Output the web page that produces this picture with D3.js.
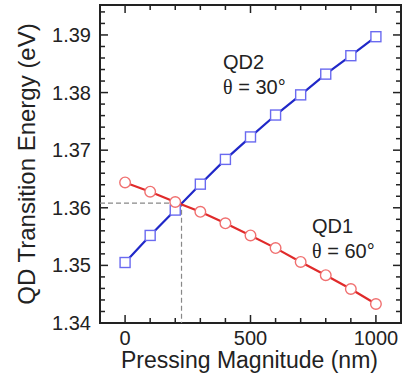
<!DOCTYPE html>
<html>
<head>
<meta charset="utf-8">
<script src="https://cdn.jsdelivr.net/npm/d3@7"></script>
<style>
  body { margin: 0; background: #fff; }
  text { font-family: "Liberation Sans", Arial, sans-serif; fill: #222; }
</style>
</head>
<body>
<div id="chart"></div>
<script>
// data
var pressing = [0, 100, 200, 300, 400, 500, 600, 700, 800, 900, 1000];
var qd2Energy = [1.3505, 1.3552, 1.3596, 1.3641, 1.3684, 1.3723, 1.3761, 1.3796, 1.3832, 1.3864, 1.3897];
var qd1Energy = [1.3644, 1.3628, 1.3610, 1.3593, 1.3573, 1.3552, 1.3530, 1.3506, 1.3483, 1.3459, 1.3433];
var crossing = { x: 225, y: 1.3608 };
var xTickLabels = [0, 500, 1000];
var yTickLabels = [1.34, 1.35, 1.36, 1.37, 1.38, 1.39];

var svgWidth = 403;
var svgHeight = 378;
var margin = { top: 5, right: 2, bottom: 55, left: 100 };
var width = svgWidth - margin.left - margin.right;
var height = svgHeight - margin.top - margin.bottom;

var svg = d3.select("#chart").append("svg")
  .attr("width", svgWidth)
  .attr("height", svgHeight);

var chartGroup = svg.append("g")
  .attr("transform", `translate(${margin.left}, ${margin.top})`);

var x = d3.scaleLinear().domain([-100, 1100]).range([0, width]);
var y = d3.scaleLinear().domain([1.34, 1.3952]).range([height, 0]);

// ticks (inward, mirrored on top/right)
var xMinor = d3.range(0, 1001, 100);
var yMinor = d3.range(1.34, 1.3951, 0.002);

function isMajorX(v) { return v % 500 === 0; }
function isMajorY(v) { return Math.abs(Math.round(v * 100) - v * 100) < 1e-6; }

var tickG = chartGroup.append("g").attr("stroke", "#222").attr("stroke-width", 1.5);
xMinor.forEach(function(v) {
  var len = isMajorX(v) ? 8 : 5;
  tickG.append("line").attr("x1", x(v)).attr("x2", x(v)).attr("y1", height).attr("y2", height - len);
  tickG.append("line").attr("x1", x(v)).attr("x2", x(v)).attr("y1", 0).attr("y2", len);
});
yMinor.forEach(function(v) {
  var len = isMajorY(v) ? 8 : 5;
  tickG.append("line").attr("x1", 0).attr("x2", len).attr("y1", y(v)).attr("y2", y(v));
  tickG.append("line").attr("x1", width).attr("x2", width - len).attr("y1", y(v)).attr("y2", y(v));
});

// frame
chartGroup.append("rect")
  .attr("x", 0).attr("y", 0)
  .attr("width", width).attr("height", height)
  .attr("fill", "none").attr("stroke", "#222").attr("stroke-width", 2);

// tick labels
chartGroup.selectAll(".xlab").data(xTickLabels).enter().append("text")
  .attr("x", d => x(d)).attr("y", height + 22)
  .attr("text-anchor", "middle")
  .style("font-size", "20px")
  .text(d => d);

chartGroup.selectAll(".ylab").data(yTickLabels).enter().append("text")
  .attr("x", -9).attr("y", d => y(d) + 7)
  .attr("text-anchor", "end")
  .style("font-size", "20px")
  .text(d => d.toFixed(2));

// dashed guide lines at the crossing
chartGroup.append("path")
  .attr("d", `M0,${y(crossing.y)}H${x(crossing.x)}V${height}`)
  .attr("fill", "none").attr("stroke", "#888").attr("stroke-width", 1.2)
  .attr("stroke-dasharray", "5,3");

var line = d3.line().x(d => x(d[0])).y(d => y(d[1]));
var qd2 = pressing.map((p, i) => [p, qd2Energy[i]]);
var qd1 = pressing.map((p, i) => [p, qd1Energy[i]]);

chartGroup.append("path").datum(qd2)
  .attr("d", line).attr("fill", "none").attr("stroke", "#2028c8").attr("stroke-width", 2.2);
chartGroup.append("path").datum(qd1)
  .attr("d", line).attr("fill", "none").attr("stroke", "#e02a2a").attr("stroke-width", 2.2);

chartGroup.selectAll(".sq").data(qd2).enter().append("rect")
  .attr("x", d => x(d[0]) - 5).attr("y", d => y(d[1]) - 5)
  .attr("width", 10).attr("height", 10)
  .attr("fill", "#fff").attr("stroke", "#6a6af0").attr("stroke-width", 1.4);

chartGroup.selectAll(".ci").data(qd1).enter().append("circle")
  .attr("cx", d => x(d[0])).attr("cy", d => y(d[1]))
  .attr("r", 5.3)
  .attr("fill", "#fff").attr("stroke", "#f07070").attr("stroke-width", 1.4);

// annotations
var ann = chartGroup.append("g").style("font-size", "20px");
function label(px, py, name, angle) {
  ann.append("text").attr("x", px).attr("y", py).text(name);
  var t = ann.append("text").attr("x", px).attr("y", py + 25);
  t.append("tspan").style("font-family", "'Liberation Serif', serif").text("θ");
  t.append("tspan").text(" = " + angle + "°");
}
label(123, 64, "QD2", 30);
label(212, 228, "QD1", 60);

// axis titles
svg.append("text")
  .attr("x", margin.left + x(500) - 1).attr("y", 368)
  .attr("text-anchor", "middle")
  .style("font-size", "23px")
  .text("Pressing Magnitude (nm)");

svg.append("text")
  .attr("transform", `translate(35, ${margin.top + height / 2}) rotate(-90)`)
  .attr("text-anchor", "middle")
  .style("font-size", "24px")
  .text("QD Transition Energy (eV)");
</script>
</body>
</html>
